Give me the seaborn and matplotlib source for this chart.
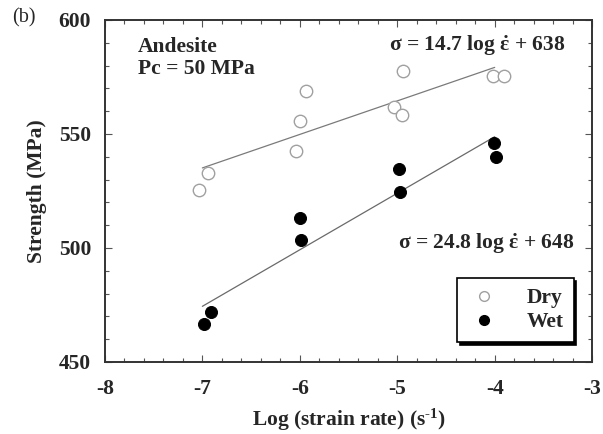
import pandas as pd
import matplotlib
matplotlib.use("Agg")
import matplotlib.pyplot as plt
import seaborn as sns
from matplotlib.ticker import MultipleLocator
from matplotlib.lines import Line2D

# data
dry_log_rate = [-7.03, -6.94, -6.04, -6.00, -5.94, -5.03, -4.95, -4.94, -4.02, -3.90]
dry_strength = [525.5, 533.0, 542.5, 555.5, 569.0, 562.0, 558.5, 577.5, 575.5, 575.5]
wet_log_rate = [-6.98, -6.91, -6.00, -5.99, -4.98, -4.97, -4.01, -3.99]
wet_strength = [466.5, 472.0, 513.0, 503.5, 534.5, 524.5, 546.0, 540.0]

# fitted lines (end points)
fit_x = [-7.0, -4.0]
dry_fit = [535.1, 579.2]
wet_fit = [474.4, 548.8]

x_ticks = [-8, -7, -6, -5, -4, -3]
y_ticks = [450, 500, 550, 600]

FS = 15.5

sns.set_style("ticks")
plt.rcParams["font.family"] = ["Liberation Serif", "DejaVu Serif"]
plt.rcParams["font.weight"] = "bold"
plt.rcParams["axes.unicode_minus"] = False
plt.rcParams["mathtext.fontset"] = "custom"
plt.rcParams["mathtext.rm"] = "Liberation Serif:bold"
plt.rcParams["mathtext.it"] = "Liberation Serif:bold"

dry_df = pd.DataFrame({"rate": dry_log_rate, "strength": dry_strength})
wet_df = pd.DataFrame({"rate": wet_log_rate, "strength": wet_strength})
fit_df = pd.DataFrame({"rate": fit_x, "dry": dry_fit, "wet": wet_fit})

fig = plt.figure(figsize=(6.03, 4.34), dpi=100)
ax = fig.add_axes([0.174, 0.166, 0.808, 0.788])

sns.lineplot(data=fit_df, x="rate", y="dry", ax=ax, color="#7a7a7a", lw=0.9)
sns.lineplot(data=fit_df, x="rate", y="wet", ax=ax, color="#6a6a6a", lw=0.9)
sns.scatterplot(data=dry_df, x="rate", y="strength", ax=ax, s=80,
                facecolor="white", edgecolor="#a0a0a0", linewidth=1.0, zorder=3)
sns.scatterplot(data=wet_df, x="rate", y="strength", ax=ax, s=75,
                color="black", edgecolor="black", zorder=3)

ax.set_xlim(-8, -3)
ax.set_ylim(450, 600)
ax.set_xticks(x_ticks)
ax.set_yticks(y_ticks)
ax.xaxis.set_minor_locator(MultipleLocator(0.2))
ax.yaxis.set_minor_locator(MultipleLocator(10))
ax.tick_params(which="both", direction="in", top=True, right=True,
               labelsize=FS, width=0.8, color="#555555")
ax.tick_params(which="major", length=5)
ax.tick_params(which="minor", length=3)
ax.tick_params(axis="x", pad=12)
ax.tick_params(axis="y", pad=10)
for lab in ax.get_xticklabels() + ax.get_yticklabels():
    lab.set_fontweight("bold")
for sp in ax.spines.values():
    sp.set_linewidth(1.4)
    sp.set_color("#333333")

ax.set_xlabel(r"Log (strain rate) (s$^{\text{-1}}$)", fontsize=FS, fontweight="bold", labelpad=6)
ax.set_ylabel("Strength (MPa)", fontsize=FS, fontweight="bold", labelpad=8)

ax.text(0.068, 0.95, "Andesite\nPc = 50 MPa", transform=ax.transAxes,
        fontsize=FS, fontweight="bold", va="top", ha="left", linespacing=1.1)
ax.text(0.944, 0.925, r"σ = 14.7 log $\dot{\varepsilon}$ + 638", transform=ax.transAxes,
        fontsize=FS, fontweight="bold", va="center", ha="right")
ax.text(0.964, 0.347, r"σ = 24.8 log $\dot{\varepsilon}$ + 648", transform=ax.transAxes,
        fontsize=FS, fontweight="bold", va="center", ha="right")
fig.text(0.02, 0.96, "(b)", fontsize=FS - 1, fontweight="normal", va="center", ha="left")

handles = [
    Line2D([], [], marker="o", ls="none", markersize=7, markerfacecolor="white",
           markeredgecolor="#a0a0a0", label="Dry"),
    Line2D([], [], marker="o", ls="none", markersize=7, markerfacecolor="black",
           markeredgecolor="black", label="Wet"),
]
leg = ax.legend(handles=handles, loc="lower right", bbox_to_anchor=(0.962, 0.058),
                borderaxespad=0, frameon=True, fancybox=False,
                shadow={"color": "black", "alpha": 1.0}, fontsize=FS,
                handletextpad=1.2, borderpad=0.45, labelspacing=0.2, handlelength=1.6)
leg.get_frame().set_edgecolor("black")
leg.get_frame().set_linewidth(1.2)
for t in leg.get_texts():
    t.set_fontweight("bold")

fig.savefig("out.png", dpi=100)
